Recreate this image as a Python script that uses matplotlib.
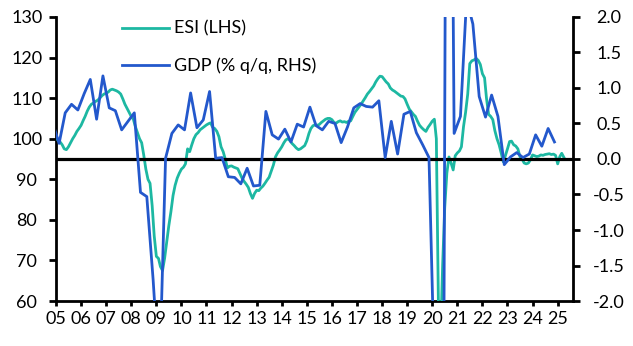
import numpy as np
import pandas as pd
import matplotlib
matplotlib.use("Agg")
import matplotlib.pyplot as plt
import matplotlib.dates as mdates

plt.rcParams['font.family'] = ['Lato', 'DejaVu Sans']
plt.rcParams['axes.unicode_minus'] = False

# ESI, monthly from Jan 2005 (LHS)
esi = [
    100.5, 99.5, 99.2, 98.5, 97.5, 97.3, 98.0, 99.0, 100.0, 100.8, 101.8, 102.5,   # 2005
    103.3, 104.5, 105.5, 106.8, 107.8, 108.5, 108.8, 109.2, 109.5, 110.0, 110.6, 111.0,  # 2006
    111.2, 111.5, 112.0, 112.2, 112.0, 111.8, 111.5, 111.0, 109.8, 108.5, 107.5, 106.5,  # 2007
    105.5, 104.8, 103.0, 101.5, 100.0, 99.0, 96.0, 92.5, 90.0, 89.0, 83.5, 76.0,   # 2008
    71.0, 70.5, 68.5, 67.5, 70.5, 74.5, 78.5, 82.0, 86.0, 88.5, 90.3, 91.5,        # 2009
    92.5, 93.0, 93.8, 97.5, 96.8, 98.5, 100.0, 101.0, 101.5, 102.2, 102.6, 103.0,  # 2010
    103.4, 103.7, 103.9, 102.8, 102.5, 101.8, 100.5, 98.0, 96.8, 95.0, 92.8, 93.2, # 2011
    93.3, 93.0, 92.8, 92.6, 91.5, 90.3, 89.5, 88.8, 88.0, 86.5, 85.3, 86.5,        # 2012
    87.3, 87.2, 87.8, 88.3, 89.0, 89.8, 90.5, 92.0, 93.5, 95.5, 96.5, 97.2,        # 2013
    98.0, 99.0, 99.7, 100.0, 99.5, 98.8, 98.3, 97.7, 97.3, 97.5, 97.9, 98.3,       # 2014
    99.5, 101.3, 102.5, 103.2, 103.4, 103.3, 103.5, 104.0, 104.4, 104.8, 105.0, 105.0,  # 2015
    104.7, 104.0, 103.8, 104.2, 104.4, 104.1, 104.2, 104.0, 104.3, 104.4, 105.5, 106.5,  # 2016
    107.2, 107.9, 108.5, 109.3, 110.1, 111.0, 111.6, 112.3, 113.0, 114.0, 114.8, 115.4,  # 2017
    115.3, 114.6, 114.0, 113.5, 112.5, 112.0, 111.7, 111.3, 110.9, 110.5, 110.4, 109.8,  # 2018
    108.5, 107.3, 106.7, 106.0, 105.5, 104.3, 103.3, 102.7, 102.2, 101.8, 102.8, 103.5,  # 2019
    104.3, 104.8, 100.0, 58.0, 50.0, 69.0, 83.0, 91.5, 95.5, 94.0, 92.3, 95.8,     # 2020
    96.5, 97.0, 98.0, 103.0, 106.5, 111.0, 118.5, 119.2, 119.4, 119.8, 119.3, 118.3,  # 2021
    116.0, 115.0, 110.0, 106.0, 105.5, 104.7, 102.0, 100.0, 98.5, 96.5, 94.3, 95.8,  # 2022
    97.5, 99.3, 99.4, 98.5, 98.2, 97.5, 95.6, 95.0, 94.0, 93.8, 94.0, 94.8,        # 2023
    96.0, 95.8, 95.6, 95.7, 96.0, 95.9, 96.1, 96.2, 96.3, 96.1, 96.2, 95.9,        # 2024
    93.8, 95.6, 96.4, 95.4,                                                        # 2025
]

# GDP % q/q, quarterly from 2004 Q4 (RHS)
gdp = [
    0.50,
    0.22, 0.65, 0.77, 0.69,    # 2005
    0.92, 1.12, 0.56, 1.17,    # 2006
    0.72, 0.68, 0.41, 0.53,    # 2007
    0.65, -0.47, -0.53, -1.70, # 2008
    -3.10, 0.01, 0.36, 0.48,   # 2009
    0.41, 0.93, 0.44, 0.55,    # 2010
    0.95, 0.01, 0.02, -0.25,   # 2011
    -0.26, -0.35, -0.13, -0.38,  # 2012
    -0.37, 0.67, 0.34, 0.28,   # 2013
    0.42, 0.24, 0.49, 0.45,    # 2014
    0.73, 0.47, 0.41, 0.53,    # 2015
    0.50, 0.23, 0.45, 0.72,    # 2016
    0.78, 0.74, 0.73, 0.82,    # 2017
    0.02, 0.53, 0.07, 0.63,    # 2018
    0.67, 0.37, 0.20, 0.02,    # 2019
    -3.50, -11.50, 12.00, 0.36,  # 2020
    0.60, 2.25, 1.90, 0.88,    # 2021
    0.59, 0.90, 0.60, -0.08,   # 2022
    0.03, 0.09, 0.02, 0.07,    # 2023
    0.34, 0.18, 0.43, 0.24,    # 2024
]

esi_dates = pd.date_range('2005-01-01', periods=len(esi), freq='MS')
gdp_dates = pd.date_range('2004-11-01', periods=len(gdp), freq='3MS') + pd.Timedelta(days=14)
years = pd.date_range('2005-01-01', '2025-01-01', freq='YS')

teal = '#1db8a2'
blue = '#2358cc'

fig = plt.figure(figsize=(6.33, 3.46), dpi=100)
ax = fig.add_axes([0.0885, 0.130, 0.8165, 0.821])
ax2 = ax.twinx()

l1, = ax.plot(esi_dates, esi, color=teal, lw=2.0, label='ESI (LHS)', zorder=3)
l2, = ax2.plot(gdp_dates, gdp, color=blue, lw=2.0, label='GDP (% q/q, RHS)', zorder=3)
ax2.axhline(0, color='black', lw=2.3, zorder=2)

ax.set_ylim(60, 130)
ax2.set_ylim(-2, 2)
ax.set_xlim(pd.Timestamp('2005-01-01'), pd.Timestamp('2025-08-10'))

ax.set_yticks(np.arange(60, 131, 10))
ax2.set_yticks(np.arange(-2, 2.01, 0.5))
ax2.set_yticklabels([f'{v:.1f}' for v in np.arange(-2, 2.01, 0.5)])
ax.set_xticks(years)
ax.xaxis.set_major_formatter(mdates.DateFormatter('%y'))

for a in (ax, ax2):
    a.spines['top'].set_visible(False)
    for s in ('left', 'right', 'bottom'):
        a.spines[s].set_linewidth(2.0)
    a.tick_params(axis='both', width=2.0, labelsize=13, colors='black')
ax.spines['right'].set_visible(False)
ax2.spines['left'].set_visible(False)
ax2.spines['bottom'].set_visible(False)
ax.tick_params(axis='x', length=3.5, pad=4)
ax.tick_params(axis='y', length=5, pad=16)
ax2.tick_params(axis='y', length=5, pad=21)
for t in ax.get_yticklabels() + ax2.get_yticklabels():
    t.set_horizontalalignment('center')

ax.legend(handles=[l1, l2], loc='upper left', bbox_to_anchor=(0.193, 0.94),
          bbox_transform=fig.transFigure, frameon=False, fontsize=13,
          handlelength=2.6, handletextpad=0.25, labelspacing=1.15,
          borderpad=0, borderaxespad=0)

fig.savefig('out.png', dpi=100)
